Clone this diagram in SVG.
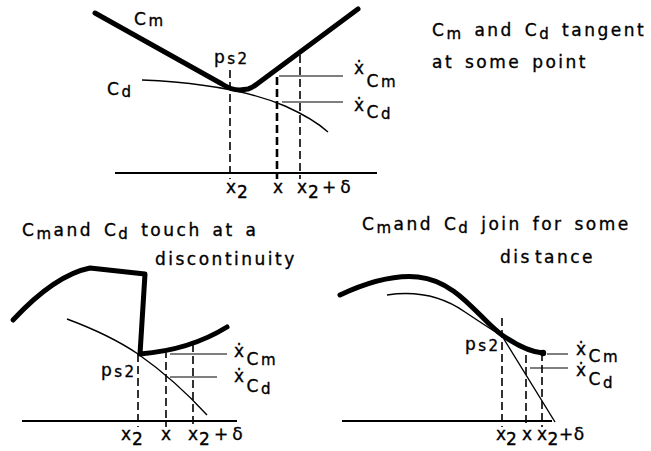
<svg xmlns="http://www.w3.org/2000/svg" width="651" height="451" viewBox="0 0 651 451">
<style>
.bg{fill:#fff}
.thick{fill:none;stroke:#000;stroke-width:5;stroke-linecap:round;stroke-linejoin:round}
.thin{fill:none;stroke:#000;stroke-width:1.4}
.axis{fill:none;stroke:#000;stroke-width:1.8}
.dash{fill:none;stroke:#000;stroke-width:1.6;stroke-dasharray:8 4}
.dashb{fill:none;stroke:#000;stroke-width:2.6;stroke-dasharray:8 4}
.hl{fill:none;stroke:#000;stroke-width:1.1}
text{font-family:"DejaVu Sans","Liberation Sans",sans-serif;font-size:17px;fill:#000;stroke:#000;stroke-width:0.35;letter-spacing:2.5px;word-spacing:3px}
.sub{font-size:15px}
.ax{letter-spacing:1px}
</style>
<rect class="bg" width="651" height="451"/>
<g id="panel-tangent">
  <path class="thick" d="M95,13 L222,84 Q231,90 240,90 L248,89 Q252,88 257,84 L358,9"/>
  <path class="thin" d="M142,80 C190,82 245,89 285,106 C305,115 318,123 328,132"/>
  <path class="axis" d="M115,173 L377,173"/>
  <path class="dash" d="M230,70 L230,179"/>
  <path class="dashb" d="M277,77 L277,179"/>
  <path class="dash" d="M300,55 L300,179"/>
  <path class="hl" d="M279,76 L343,76 M282,102 L343,102"/>
  <text x="134" y="25">C<tspan class="sub" dy="1">m</tspan></text>
  <text x="107" y="95">C<tspan class="sub" dy="2">d</tspan></text>
  <text x="214" y="63">p<tspan class="sub" dy="1">s2</tspan></text>
  <text x="354" y="74">ẋ<tspan dy="13">C</tspan><tspan class="sub">m</tspan></text>
  <text x="354" y="111">ẋ<tspan dy="7">C</tspan><tspan class="sub" dy="1">d</tspan></text>
  <text class="ax" x="226" y="193">x<tspan dy="5">2</tspan></text>
  <text class="ax" x="273" y="193">x</text>
  <text class="ax" x="297" y="193">x<tspan dy="5">2</tspan><tspan dy="-5" dx="2">+</tspan><tspan dx="3">δ</tspan></text>
  <text x="432" y="36">C<tspan class="sub" dy="3">m</tspan><tspan dy="-3"> and  C</tspan><tspan class="sub" dy="3">d</tspan><tspan dy="-3"> tangent</tspan></text>
  <text x="432" y="68">at some point</text>
</g>
<g id="panel-discontinuity">
  <path class="thick" d="M13,320 Q55,275 90,268 L145,274 L140,354 Q190,350 227,327"/>
  <path class="thin" d="M67,319 Q110,335 138,354 Q175,380 207,415"/>
  <path class="axis" d="M22,421 L237,421"/>
  <path class="dash" d="M138,354 L138,427"/>
  <path class="dash" d="M166,350 L166,427"/>
  <path class="dash" d="M193,344 L193,427"/>
  <path class="hl" d="M170,354 L227,354 M170,377 L217,377"/>
  <text x="101" y="376">p<tspan class="sub" dy="1">s2</tspan></text>
  <text x="234" y="357">ẋ<tspan dy="8">C</tspan><tspan class="sub">m</tspan></text>
  <text x="234" y="382">ẋ<tspan dy="10">C</tspan><tspan class="sub" dy="2">d</tspan></text>
  <text class="ax" x="121" y="440">x<tspan dy="5">2</tspan></text>
  <text class="ax" x="161" y="440">x</text>
  <text class="ax" x="188" y="440">x<tspan dy="5">2</tspan><tspan dy="-5" dx="3">+</tspan><tspan dx="3">δ</tspan></text>
  <text x="22" y="236">C<tspan class="sub" dy="3">m</tspan><tspan dy="-3">and  C</tspan><tspan class="sub" dy="3">d</tspan><tspan dy="-3"> touch at  a</tspan></text>
  <text x="155" y="265">discontinuity</text>
</g>
<g id="panel-join">
  <path class="thick" d="M340,295 C370,281 398,275 418,277 C458,281 480,320 502,335 C515,344 530,352 543,353"/>
  <circle cx="543" cy="353" r="3.2"/>
  <path class="thin" d="M387,295 C420,290 445,298 465,312 C480,322 492,330 502,336 L555,422"/>
  <path class="axis" d="M342,421 L552,421"/>
  <path class="dash" d="M502,318 L502,427"/>
  <path class="dash" d="M526,355 L526,427"/>
  <path class="dash" d="M542,353 L542,427"/>
  <path class="hl" d="M547,354 L568,354 M530,368 L568,368"/>
  <text x="465" y="350">p<tspan class="sub" dy="1">s2</tspan></text>
  <text x="576" y="355">ẋ<tspan dy="7">C</tspan><tspan class="sub">m</tspan></text>
  <text x="576" y="376">ẋ<tspan dy="9">C</tspan><tspan class="sub" dy="3">d</tspan></text>
  <text class="ax" x="496" y="440" style="letter-spacing:0">x<tspan dy="5">2</tspan></text>
  <text class="ax" x="522" y="440">x</text>
  <text class="ax" x="537" y="440" style="letter-spacing:0.5px">x<tspan dy="5">2</tspan><tspan dy="-5">+δ</tspan></text>
  <text x="362" y="230">C<tspan class="sub" dy="3">m</tspan><tspan dy="-3">and  C</tspan><tspan class="sub" dy="3">d</tspan><tspan dy="-3"> join  for  some</tspan></text>
  <text x="500" y="263">dis<tspan dx="3">tance</tspan></text>
</g>
</svg>
